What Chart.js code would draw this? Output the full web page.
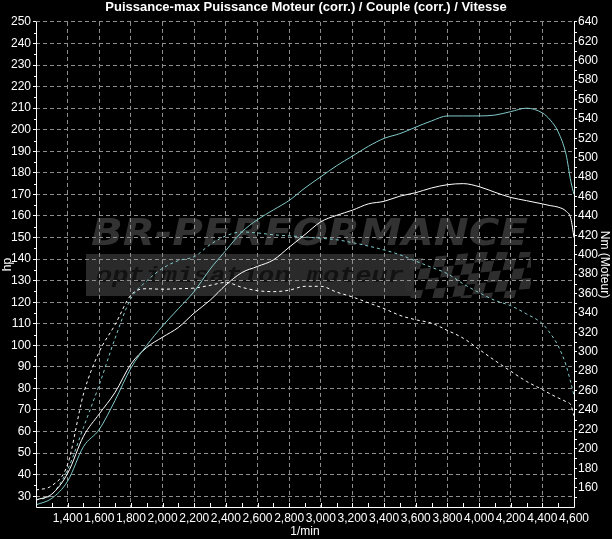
<!DOCTYPE html>
<html><head><meta charset="utf-8">
<script src="https://cdn.jsdelivr.net/npm/chart.js@4/dist/chart.umd.min.js"></script>
<style>html,body{margin:0;padding:0;background:#000;overflow:hidden}#c{display:block}</style>
</head><body><canvas id="c" width="612" height="539"></canvas>
<script>
// ---- data ----
const titleText = "Puissance-max Puissance Moteur (corr.) / Couple (corr.) / Vitesse";
const xTitle = "1/min";
const yTitle = "hp";
const y2Title = "Nm (Moteur)";

const rpm = [1200,1300,1400,1500,1600,1700,1800,1900,2000,2100,2200,2300,2400,2500,2600,2700,2800,2900,3000,3100,3200,3300,3400,3500,3600,3700,3800,3900,4000,4100,4200,4300,4400,4450,4500,4550,4580,4600];
const powerTuned = [26,29,37,53,61,74.5,89.5,100,109,117,125,135.3,144,152.5,158.3,162.8,167.2,173,178.2,183.3,187.8,192.3,196,198.2,201.2,204.1,206.4,206.4,206.4,206.8,208.4,210,207.8,204.5,199,188.5,176,170];
const powerStock = [28.3,31,40.6,57.8,68.2,78.2,91.3,99,103.8,108.3,115,120.9,128,133.7,136.6,139.6,145.5,151.4,157.3,160.3,162.7,165.6,166.8,169.2,170.8,173,174.5,175,173.6,171,168.6,167.1,165.6,164.8,164.1,162.2,158.8,150];
const torqueTuned = [147,153,178.6,222,266,314,355,373,386,394,398,410.4,419.5,423.5,422.5,420.6,419.5,418.3,417,415.5,412.5,409,405,400,393.5,387,380.5,370,361,353,347.5,339,329,319,306,286,268,255];
const torqueStock = [157.5,162,184,256.5,300,328,358.5,365,364.5,365,365.7,368.5,371.5,366.5,363,362,363.5,367.5,367.5,361.5,356.5,350.5,344.5,337.5,333,329.5,322,314,302.5,291,280,269.5,261,256.5,252.5,248.5,245,234];

const rpmTicks = [1400,1600,1800,2000,2200,2400,2600,2800,3000,3200,3400,3600,3800,4000,4200,4400,4600];
const hpTicks = [30,40,50,60,70,80,90,100,110,120,130,140,150,160,170,180,190,200,210,220,230,240,250];
const nmTicks = [160,180,200,220,240,260,280,300,320,340,360,380,400,420,440,460,480,500,520,540,560,580,600,620,640];

const watermarkTitle = "BR-PERFORMANCE";
const watermarkSub = "optimisation moteur";

// ---- styling ----
const FONT = "'Liberation Sans Narrow','Arial Narrow','Liberation Sans',Arial,sans-serif";
const CYAN = '#80caca';
const GRID = '#8e8e8e';

const pts = (vals) => rpm.map((r, i) => ({x: r, y: vals[i]}));

const bgPlugin = {
  id: 'bg',
  beforeDraw(chart) {
    const ctx = chart.ctx;
    ctx.save();
    ctx.fillStyle = '#000';
    ctx.fillRect(0, 0, chart.width, chart.height);
    // band
    ctx.fillStyle = '#2a2a2a';
    ctx.fillRect(86, 254, 328, 42);
    // checkered flag
    ctx.save();
    ctx.beginPath();
    ctx.rect(405, 252, 126, 46);
    ctx.clip();
    ctx.fillStyle = '#2e2e2e';
    const cell = 11;
    for (let r = 0; r < 5; r++) {
      for (let c = 0; c < 12; c++) {
        if ((r + c) % 2 === 0) {
          const x0 = 412 + c * cell - r * 4 + Math.sin(c * 0.6) * 2;
          const y0 = 253 + r * cell - c * 1.2 + 6;
          ctx.beginPath();
          ctx.moveTo(x0, y0);
          ctx.lineTo(x0 + cell, y0 - 1);
          ctx.lineTo(x0 + cell - 3, y0 + cell - 1);
          ctx.lineTo(x0 - 3, y0 + cell);
          ctx.closePath();
          ctx.fill();
        }
      }
    }
    ctx.restore();
    // big title
    ctx.fillStyle = '#323232';
    ctx.font = "bold oblique 38px 'DejaVu Sans','Liberation Sans',Arial,sans-serif";
    ctx.textBaseline = 'alphabetic';
    let w = ctx.measureText(watermarkTitle).width;
    ctx.save();
    ctx.translate(91, 245);
    ctx.scale(437 / w, 1);
    ctx.fillText(watermarkTitle, 0, 0);
    ctx.restore();
    // subtitle
    ctx.fillStyle = '#121212';
    ctx.font = "italic bold 22px 'Liberation Mono','DejaVu Sans Mono',monospace";
    w = ctx.measureText(watermarkSub).width;
    ctx.save();
    ctx.translate(96, 282);
    ctx.scale(308 / w, 1);
    ctx.fillText(watermarkSub, 0, 0);
    ctx.restore();
    ctx.restore();
  }
};

const framePlugin = {
  id: 'frame',
  afterDraw(chart) {
    const {ctx, chartArea: a, scales} = chart;
    ctx.save();
    ctx.strokeStyle = '#fff';
    ctx.lineWidth = 1;
    ctx.beginPath();
    ctx.moveTo(a.left + 0.5, a.top);
    ctx.lineTo(a.left + 0.5, a.bottom + 0.5);
    ctx.lineTo(a.right + 0.5, a.bottom + 0.5);
    ctx.lineTo(a.right + 0.5, a.top);
    ctx.stroke();
    ctx.beginPath();
    // minor rpm ticks every 100, inward
    for (let v = scales.x.min + 100; v < scales.x.max; v += 100) {
      const px = Math.round(scales.x.getPixelForValue(v)) + 0.5;
      ctx.moveTo(px, a.bottom);
      ctx.lineTo(px, a.bottom - 4);
    }
    // minor hp ticks every 5
    for (let v = 35; v < 250; v += 10) {
      const py = Math.round(scales.y.getPixelForValue(v)) + 0.5;
      ctx.moveTo(a.left, py);
      ctx.lineTo(a.left - 2, py);
    }
    // minor Nm ticks every 10
    for (let v = 150; v < 640; v += 20) {
      const py = Math.round(scales.y2.getPixelForValue(v)) + 0.5;
      ctx.moveTo(a.right + 1, py);
      ctx.lineTo(a.right + 3, py);
    }
    ctx.stroke();
    ctx.restore();
  }
};

const font12 = {family: FONT, size: 12};

new Chart(document.getElementById('c'), {
  type: 'line',
  data: {
    datasets: [
      {label: 'Puissance (modifié)', data: pts(powerTuned), yAxisID: 'y', borderColor: CYAN, borderWidth: 1, pointRadius: 0, cubicInterpolationMode: 'monotone'},
      {label: 'Puissance (série)', data: pts(powerStock), yAxisID: 'y', borderColor: '#ffffff', borderWidth: 1, pointRadius: 0, cubicInterpolationMode: 'monotone'},
      {label: 'Couple (modifié)', data: pts(torqueTuned), yAxisID: 'y2', borderColor: CYAN, borderWidth: 1, borderDash: [3, 3], pointRadius: 0, cubicInterpolationMode: 'monotone'},
      {label: 'Couple (série)', data: pts(torqueStock), yAxisID: 'y2', borderColor: '#ffffff', borderWidth: 1, borderDash: [3, 3], pointRadius: 0, cubicInterpolationMode: 'monotone'}
    ]
  },
  options: {
    responsive: false,
    animation: false,
    devicePixelRatio: 1,
    layout: {padding: 0},
    plugins: {
      legend: {display: false},
      tooltip: {enabled: false},
      title: {
        display: true, text: titleText, color: '#fff',
        font: {family: FONT, size: 13, weight: 'bold', lineHeight: 1.15},
        padding: {top: 0, bottom: 7}
      }
    },
    scales: {
      x: {
        type: 'linear', position: 'bottom', min: 1200, max: 4600,
        afterBuildTicks: s => { s.ticks = rpmTicks.map(v => ({value: v})); },
        afterFit: s => { s.height = 32; },
        ticks: {color: '#fff', font: font12, padding: 4, autoSkip: false, maxRotation: 0, minRotation: 0,
          callback: v => Number(v).toLocaleString('en-US')},
        grid: {color: GRID, drawTicks: false},
        border: {display: false, dash: [4, 3]},
        title: {display: true, text: xTitle, color: '#fff', font: font12, padding: 0}
      },
      y: {
        position: 'left', min: 25, max: 250,
        afterBuildTicks: s => { s.ticks = hpTicks.map(v => ({value: v})); },
        afterFit: s => { s.width = 36; },
        ticks: {color: '#fff', font: font12, padding: 2, autoSkip: false},
        grid: {color: GRID, tickColor: '#fff', tickLength: 3},
        border: {display: false, dash: [4, 3]},
        title: {display: true, text: yTitle, color: '#fff', font: font12, padding: 0}
      },
      y2: {
        position: 'right', min: 140, max: 640,
        afterBuildTicks: s => { s.ticks = nmTicks.map(v => ({value: v})); },
        afterFit: s => { s.width = 38; },
        ticks: {color: '#fff', font: font12, padding: 1, autoSkip: false},
        grid: {drawOnChartArea: false, color: '#fff', tickColor: '#fff', tickLength: 3},
        border: {display: false},
        title: {display: true, text: y2Title, color: '#fff', font: font12, padding: 0}
      }
    }
  },
  plugins: [bgPlugin, framePlugin]
});
</script>
</body></html>
